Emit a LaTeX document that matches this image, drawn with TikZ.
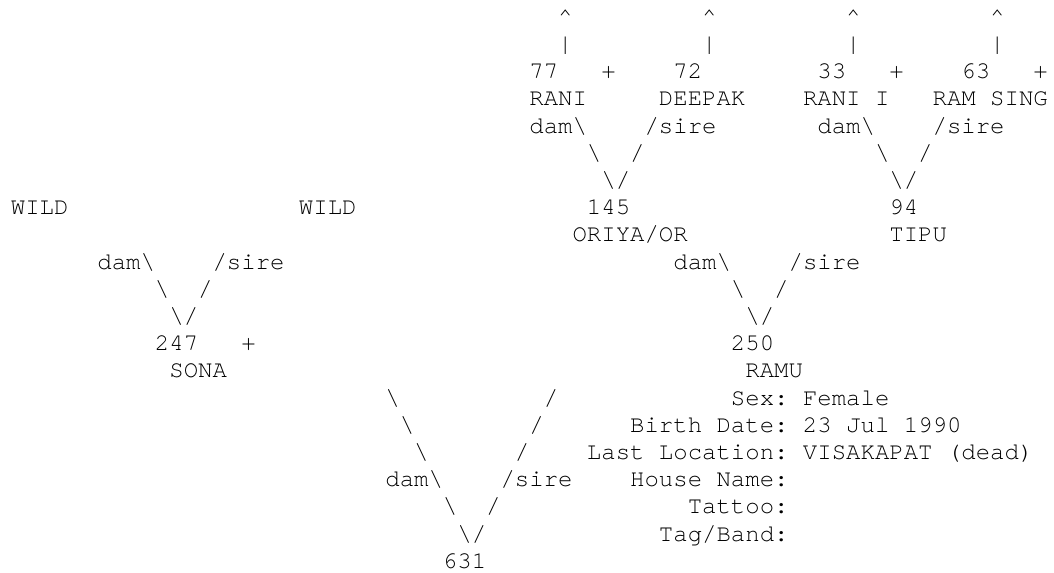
\documentclass[tikz,border=0pt]{standalone}
\usepackage{fontspec}
\newfontfamily\cour{texgyrecursor-regular.otf}
\frenchspacing
\newcommand{\bs}{\textbackslash}
\begin{document}
\begin{tikzpicture}[x=14.4pt, y=-27.2pt,
  t/.style={anchor=base west, inner sep=0pt, outer sep=0pt,
            font=\cour\fontsize{24pt}{27pt}\selectfont, text=black}]
\fill[white] (-0.76,-0.89) rectangle (72.43,20.14);
\useasboundingbox (-0.76,-0.89) rectangle (72.43,20.14);
% row 0 and 1: arrows up
\node[t] (up1) at (38,0) {\textasciicircum};
\node[t] (up2) at (48,0) {\textasciicircum};
\node[t] (up3) at (58,0) {\textasciicircum};
\node[t] (up4) at (68,0) {\textasciicircum};
\node[t] (bar1) at (38,1) {|};
\node[t] (bar2) at (48,1) {|};
\node[t] (bar3) at (58,1) {|};
\node[t] (bar4) at (68,1) {|};
% row 2
\node[t] (id77) at (36,2) {77};
\node[t] (p77) at (41,2) {+};
\node[t] (id72) at (46,2) {72};
\node[t] (id33) at (56,2) {33};
\node[t] (p33) at (61,2) {+};
\node[t] (id63) at (66,2) {63};
\node[t] (p63) at (71,2) {+};
% row 3
\node[t] (n77) at (36,3) {RANI};
\node[t] (n72) at (45,3) {DEEPAK};
\node[t] (n33) at (55,3) {RANI I};
\node[t] (n63) at (64,3) {RAM SING};
% row 4
\node[t] (dam145) at (36,4) {dam\bs};
\node[t] (sire145) at (44,4) {/sire};
\node[t] (dam94) at (56,4) {dam\bs};
\node[t] (sire94) at (64,4) {/sire};
% row 5
\node[t] (a5a) at (40,5) {\bs};
\node[t] (a5b) at (43,5) {/};
\node[t] (a5c) at (60,5) {\bs};
\node[t] (a5d) at (63,5) {/};
% row 6
\node[t] (v145) at (41,6) {\bs/};
\node[t] (v94) at (61,6) {\bs/};
% row 7
\node[t] (wild1) at (0,7) {WILD};
\node[t] (wild2) at (20,7) {WILD};
\node[t] (id145) at (40,7) {145};
\node[t] (id94) at (61,7) {94};
% row 8
\node[t] (n145) at (39,8) {ORIYA/OR};
\node[t] (n94) at (61,8) {TIPU};
% row 9
\node[t] (dam247) at (6,9) {dam\bs};
\node[t] (sire247) at (14,9) {/sire};
\node[t] (dam250) at (46,9) {dam\bs};
\node[t] (sire250) at (54,9) {/sire};
% row 10
\node[t] (a10a) at (10,10) {\bs};
\node[t] (a10b) at (13,10) {/};
\node[t] (a10c) at (50,10) {\bs};
\node[t] (a10d) at (53,10) {/};
% row 11
\node[t] (v247) at (11,11) {\bs/};
\node[t] (v250) at (51,11) {\bs/};
% row 12
\node[t] (id247) at (10,12) {247};
\node[t] (p247) at (16,12) {+};
\node[t] (id250) at (50,12) {250};
% row 13
\node[t] (n247) at (11,13) {SONA};
\node[t] (n250) at (51,13) {RAMU};
% rows 14-20
\node[t] (a14a) at (26,14) {\bs};
\node[t] (a14b) at (37,14) {/};
\node[t] (sex) at (50,14) {Sex: Female};
\node[t] (a15a) at (27,15) {\bs};
\node[t] (a15b) at (36,15) {/};
\node[t] (birth) at (43,15) {Birth Date: 23 Jul 1990};
\node[t] (a16a) at (28,16) {\bs};
\node[t] (a16b) at (35,16) {/};
\node[t] (loc) at (40,16) {Last Location: VISAKAPAT (dead)};
\node[t] (dam631) at (26,17) {dam\bs};
\node[t] (sire631) at (34,17) {/sire};
\node[t] (house) at (43,17) {House Name:};
\node[t] (a18a) at (30,18) {\bs};
\node[t] (a18b) at (33,18) {/};
\node[t] (tattoo) at (47,18) {Tattoo:};
\node[t] (v631) at (31,19) {\bs/};
\node[t] (tag) at (45,19) {Tag/Band:};
\node[t] (id631) at (30,20) {631};
\end{tikzpicture}
\end{document}
